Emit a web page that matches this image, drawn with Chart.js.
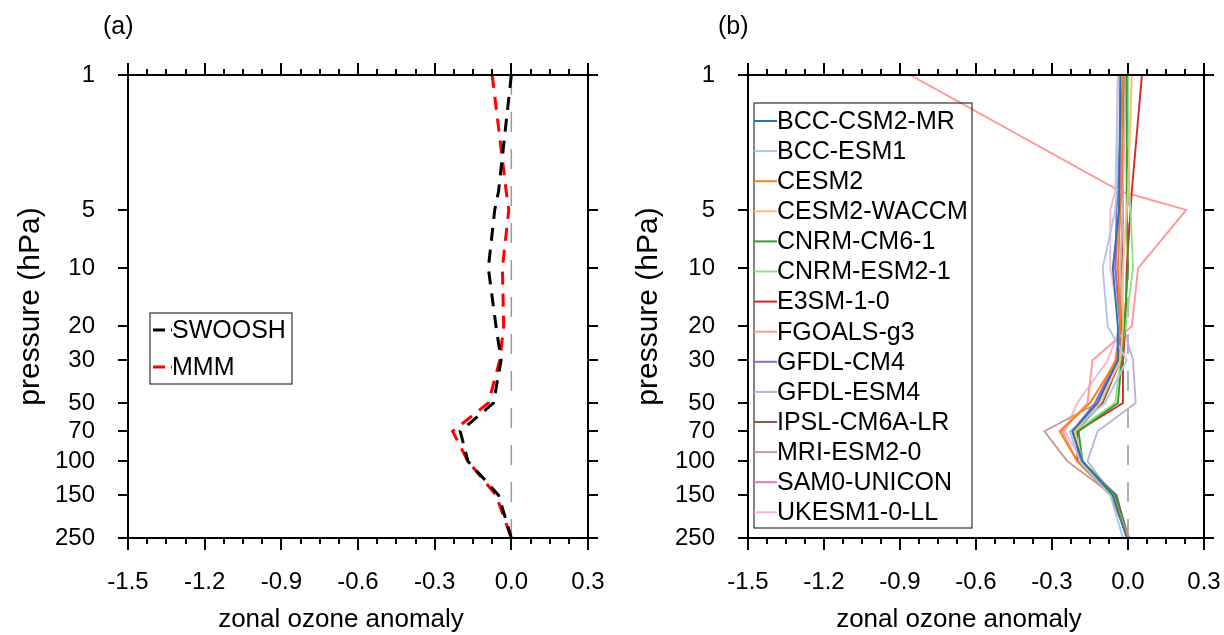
<!DOCTYPE html>
<html>
<head>
<meta charset="utf-8">
<script src="https://cdn.jsdelivr.net/npm/chart.js@4"></script>
<style>
  body { margin: 0; background: #fff; }
  #wrap { position: relative; width: 1224px; height: 635px; overflow: hidden; }
  .panel { position: absolute; top: 0; width: 612px; height: 635px; }
</style>
</head>
<body>
<div id="wrap">
  <div class="panel" style="left:0"><canvas id="chartA" width="612" height="635"></canvas></div>
  <div class="panel" style="left:612px"><canvas id="chartB" width="612" height="635"></canvas></div>
</div>
<script>
// --- DATA ---
const levels = [1, 4, 5, 10, 20, 30, 50, 70, 100, 150, 250];
const pressureTicks = [1, 5, 10, 20, 30, 50, 70, 100, 150, 250];
const xTicks = [-1.5, -1.2, -0.9, -0.6, -0.3, 0.0, 0.3];

// panel (a)
const swoosh = [0.0, -0.05, -0.065, -0.09, -0.06, -0.04, -0.07, -0.20, -0.17, -0.05, 0.0];
const mmm    = [-0.075, -0.02, -0.01, -0.035, -0.03, -0.045, -0.09, -0.23, -0.17, -0.06, 0.0];

// panel (b)
const modelNames = ["BCC-CSM2-MR", "BCC-ESM1", "CESM2", "CESM2-WACCM", "CNRM-CM6-1", "CNRM-ESM2-1",
  "E3SM-1-0", "FGOALS-g3", "GFDL-CM4", "GFDL-ESM4", "IPSL-CM6A-LR", "MRI-ESM2-0", "SAM0-UNICON", "UKESM1-0-LL"];
const modelColors = ["#1f77b4", "#aec7e8", "#ff7f0e", "#ffbb78", "#2ca02c", "#98df8a", "#d62728",
  "#ff9896", "#9467bd", "#c5b0d5", "#8c564b", "#c49c94", "#e377c2", "#f7b6d2"];

const bccCsm2Mr  = [-0.03, -0.035, -0.035, -0.06, -0.04, -0.04, -0.12, -0.22, -0.18, -0.06, -0.005];
const bccEsm1    = [-0.04, -0.045, -0.05, -0.10, -0.08, -0.005, -0.09, -0.23, -0.19, -0.07, -0.02];
const cesm2      = [-0.02, -0.025, -0.03, -0.04, -0.03, -0.045, -0.15, -0.27, -0.20, -0.07, 0.0];
const cesm2Waccm = [0.015, 0.0, -0.005, -0.02, -0.02, -0.03, -0.11, -0.21, -0.18, -0.06, 0.0];
const cnrmCm6    = [-0.005, -0.005, -0.005, 0.0, -0.015, -0.025, -0.04, -0.195, -0.18, -0.05, 0.0];
const cnrmEsm2   = [0.0, 0.005, 0.01, 0.02, -0.01, -0.03, -0.05, -0.21, -0.18, -0.06, 0.0];
const e3sm       = [0.055, 0.015, 0.01, -0.005, -0.01, -0.02, -0.02, -0.20, -0.20, -0.06, 0.0];
const fgoals     = [-0.86, -0.03, 0.23, 0.04, 0.015, -0.14, -0.16, -0.26, -0.20, -0.07, 0.005];
const gfdlCm4    = [-0.02, -0.04, -0.045, -0.05, -0.03, -0.04, -0.13, -0.22, -0.18, -0.06, 0.0];
const gfdlEsm4   = [-0.01, -0.02, -0.02, -0.03, -0.02, 0.02, 0.03, -0.12, -0.16, -0.06, 0.0];
const ipsl       = [-0.015, -0.02, -0.02, -0.025, -0.025, -0.03, -0.10, -0.21, -0.19, -0.045, 0.0];
const mri        = [-0.02, -0.02, -0.02, -0.03, -0.03, -0.04, -0.12, -0.33, -0.24, -0.06, 0.0];
const sam0       = [-0.03, -0.03, -0.035, -0.05, -0.03, -0.05, -0.13, -0.21, -0.18, -0.05, 0.005];
const ukesm      = [-0.04, -0.05, -0.07, -0.07, -0.03, -0.08, -0.20, -0.25, -0.18, -0.06, 0.005];
const modelSeries = [bccCsm2Mr, bccEsm1, cesm2, cesm2Waccm, cnrmCm6, cnrmEsm2, e3sm,
  fgoals, gfdlCm4, gfdlEsm4, ipsl, mri, sam0, ukesm];

// dashed reference line at zero
const zeroX = [0, 0];
const zeroP = [1, 250];

const FONT = "'Liberation Sans', Arial, Helvetica, sans-serif";

function toPoints(values, pres) {
    return values.map((v, i) => ({ x: v, y: pres[i] }));
}

// frame, outward ticks, titles, panel label and legend box
const framePlugin = {
    id: 'frame',
    afterDraw(chart, args, opts) {
        const ctx = chart.ctx;
        const a = chart.chartArea;
        const xs = chart.scales.x, ys = chart.scales.y;
        ctx.save();
        ctx.strokeStyle = '#000';
        ctx.lineWidth = 2;
        ctx.setLineDash([]);
        ctx.strokeRect(a.left, a.top, a.right - a.left, a.bottom - a.top);

        ctx.beginPath();
        // x ticks, top & bottom, minor every 0.075
        for (let i = 0; i <= 24; i++) {
            const v = -1.5 + i * 0.075;
            const px = Math.round(xs.getPixelForValue(v));
            const len = (i % 4 === 0) ? 12 : 6;
            ctx.moveTo(px, a.top); ctx.lineTo(px, a.top - len);
            ctx.moveTo(px, a.bottom); ctx.lineTo(px, a.bottom + len);
        }
        // y ticks, left & right
        pressureTicks.forEach(p => {
            const py = Math.round(ys.getPixelForValue(p));
            ctx.moveTo(a.left, py); ctx.lineTo(a.left - 10, py);
            ctx.moveTo(a.right, py); ctx.lineTo(a.right + 10, py);
        });
        ctx.stroke();

        ctx.fillStyle = '#000';
        // panel label
        ctx.font = '25px ' + FONT;
        ctx.textAlign = 'left';
        ctx.textBaseline = 'middle';
        ctx.fillText(opts.label, opts.labelX, 27);

        // axis titles
        ctx.font = '26px ' + FONT;
        ctx.textAlign = 'center';
        ctx.fillText('zonal ozone anomaly', (a.left + a.right) / 2 - 17, 620);
        ctx.save();
        ctx.font = '30px ' + FONT;
        ctx.translate(opts.yTitleX, (a.top + a.bottom) / 2);
        ctx.rotate(-Math.PI / 2);
        ctx.fillText('pressure (hPa)', 0, 0);
        ctx.restore();

        // legend
        const lg = opts.legend;
        ctx.lineWidth = 1.2;
        ctx.strokeStyle = '#333';
        ctx.strokeRect(lg.x, lg.y, lg.w, lg.h);
        ctx.font = '25px ' + FONT;
        ctx.textAlign = 'left';
        lg.items.forEach((it, i) => {
            const y = lg.firstY + i * lg.step;
            ctx.beginPath();
            ctx.strokeStyle = it.color;
            ctx.lineWidth = it.width;
            ctx.setLineDash(it.dash || []);
            ctx.moveTo(lg.x + (it.dash ? 3 : 0), y);
            ctx.lineTo(lg.x + lg.sample, y);
            ctx.stroke();
            ctx.setLineDash([]);
            ctx.fillStyle = '#000';
            ctx.fillText(it.text, lg.x + lg.sample, y + 1);
        });
        ctx.restore();
    }
};

function makeOptions(yWidth, padRight, frameOpts) {
    return {
        responsive: false,
        animation: false,
        layout: { padding: { top: 75, right: padRight, left: 0, bottom: 0 } },
        elements: { point: { radius: 0, hoverRadius: 0 } },
        plugins: { legend: { display: false }, tooltip: { enabled: false }, frame: frameOpts },
        scales: {
            x: {
                type: 'linear', min: -1.5, max: 0.3,
                grid: { display: false }, border: { display: false },
                afterBuildTicks: s => { s.ticks = xTicks.map(v => ({ value: v })); },
                afterFit: s => { s.height = 97; s.paddingLeft = 0; s.paddingRight = 0; },
                ticks: {
                    padding: 22, color: '#000', font: { family: FONT, size: 24 },
                    maxRotation: 0,
                    callback: v => (Math.abs(v) < 1e-9 ? '0.0' : v.toFixed(1))
                }
            },
            y: {
                type: 'logarithmic', min: 1, max: 250, reverse: true,
                grid: { display: false }, border: { display: false },
                afterBuildTicks: s => { s.ticks = pressureTicks.map(v => ({ value: v })); },
                afterFit: s => { s.width = yWidth; s.paddingTop = 0; s.paddingBottom = 0; },
                ticks: {
                    padding: 25, color: '#000', font: { family: FONT, size: 24 },
                    callback: v => String(v)
                }
            }
        }
    };
}

const zeroDataset = {
    data: toPoints(zeroX, zeroP), showLine: true,
    borderColor: '#999999', borderWidth: 1.5, borderDash: [20, 17]
};

// --- PANEL (a) ---
new Chart(document.getElementById('chartA'), {
    type: 'scatter',
    data: {
        datasets: [
            { label: 'SWOOSH', data: toPoints(swoosh, levels), showLine: true,
              borderColor: '#000', borderWidth: 3, borderDash: [13, 9] },
            { label: 'MMM', data: toPoints(mmm, levels), showLine: true,
              borderColor: '#ff0000', borderWidth: 3, borderDash: [13, 9] },
            zeroDataset
        ]
    },
    options: makeOptions(128, 24, {
        label: '(a)', labelX: 103, yTitleX: 31,
        legend: {
            x: 150, y: 313, w: 142, h: 71, sample: 22, firstY: 330, step: 37,
            items: [
                { text: 'SWOOSH', color: '#000', width: 3, dash: [12, 6] },
                { text: 'MMM', color: '#ff0000', width: 3, dash: [12, 6] }
            ]
        }
    }),
    plugins: [framePlugin]
});

// --- PANEL (b) ---
const modelDatasets = modelNames.map((name, i) => ({
    label: name, data: toPoints(modelSeries[i], levels), showLine: true,
    borderColor: modelColors[i], borderWidth: 1.9
}));

new Chart(document.getElementById('chartB'), {
    type: 'scatter',
    data: { datasets: [...modelDatasets, { ...zeroDataset }] },
    options: makeOptions(136, 20, {
        label: '(b)', labelX: 106, yTitleX: 37,
        legend: {
            x: 142, y: 103, w: 218, h: 425, sample: 23, firstY: 121, step: 30.1,
            items: modelNames.map((n, i) => ({ text: n, color: modelColors[i], width: 2 }))
        }
    }),
    plugins: [framePlugin]
});
</script>
</body>
</html>
